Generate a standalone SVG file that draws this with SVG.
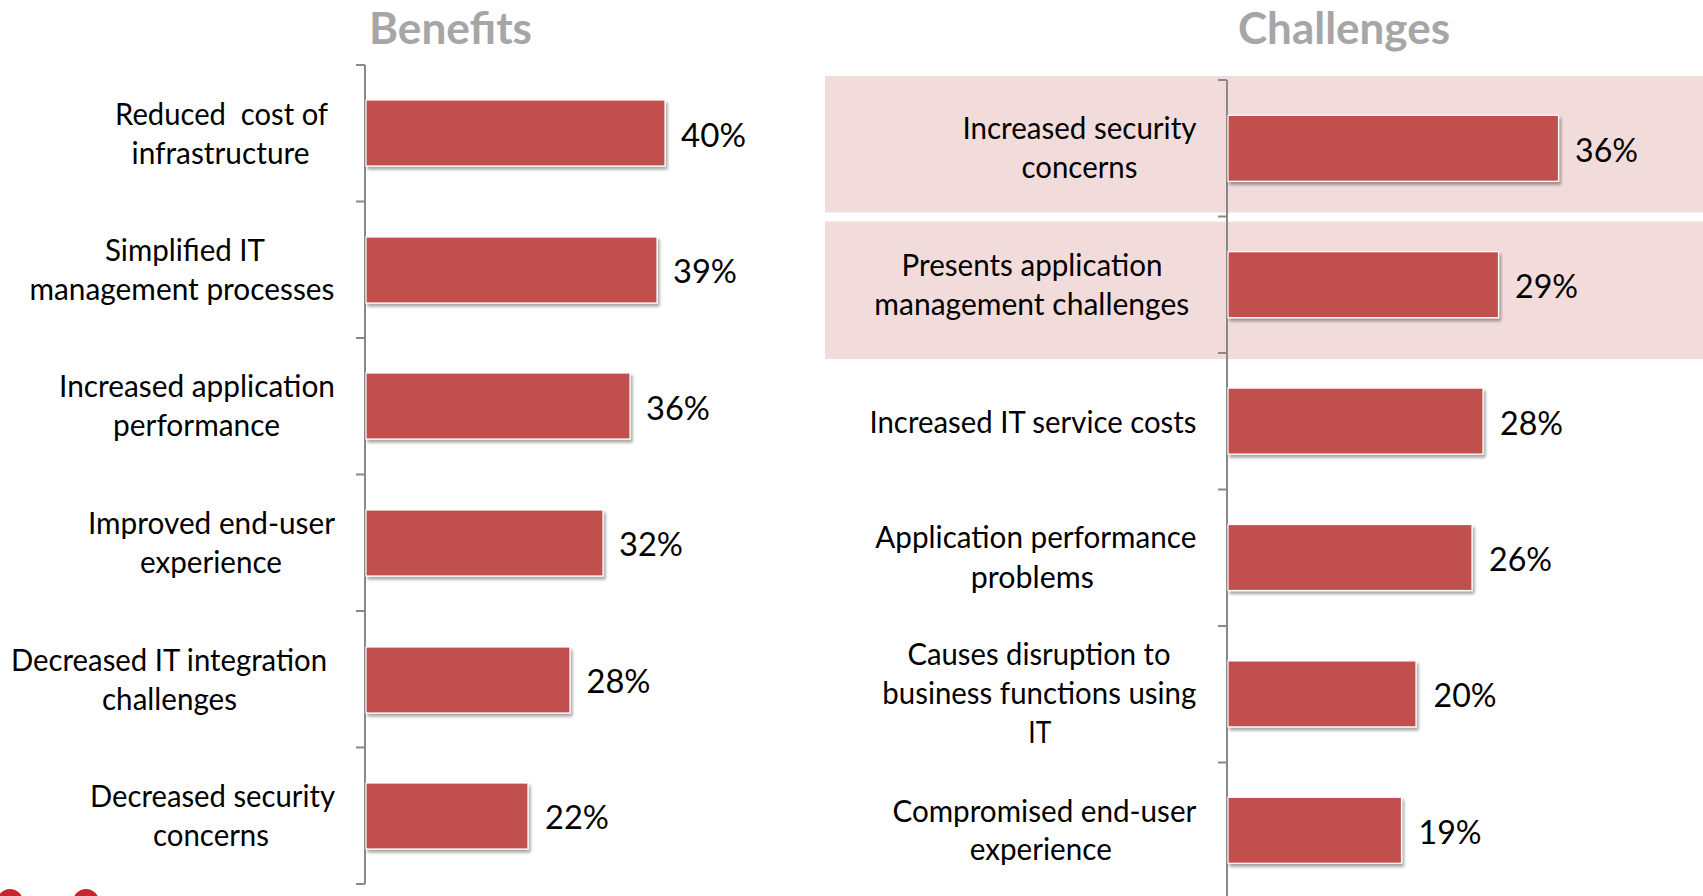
<svg xmlns="http://www.w3.org/2000/svg" width="1703" height="896" viewBox="0 0 1703 896">
<style>
.lbl{font-family:Lato,"Open Sans","Liberation Sans",sans-serif;font-size:31px;fill:#000;text-anchor:middle;white-space:pre}
.pct{font-family:Lato,"Open Sans","Liberation Sans",sans-serif;font-size:33px;fill:#000}
.ttl{font-family:Lato,"Open Sans","Liberation Sans",sans-serif;font-size:43px;font-weight:bold;fill:#A6A6A6;text-anchor:middle}
.bar{fill:#C0504D;stroke:#fff;stroke-width:1.2;filter:url(#sh)}
.axis{stroke:#898989;stroke-width:2;fill:none}
.band{fill:#F2DCDB}
</style>
<defs>
<filter id="sh" x="-5%" y="-20%" width="115%" height="150%">
<feDropShadow dx="2" dy="3" stdDeviation="1.5" flood-color="#000" flood-opacity="0.35"/>
</filter>
</defs>
<rect width="1703" height="896" fill="#fff"/>
<circle cx="10" cy="902" r="13" fill="#C8262E"/>
<circle cx="86" cy="902" r="13" fill="#C8262E"/>
<text class="ttl" x="450.5" y="44" textLength="163" lengthAdjust="spacingAndGlyphs">Benefits</text>
<text class="ttl" x="1344" y="44" textLength="212" lengthAdjust="spacingAndGlyphs">Challenges</text>
<g id="highlights">
<rect class="band" x="825" y="76" width="878" height="136.5"/>
<rect class="band" x="825" y="221.5" width="878" height="137.5"/>
</g>
<g id="connectors">
<path class="axis" d="M365 65V884M356 65H365M356 201.5H365M356 338H365M356 474.5H365M356 611H365M356 747.5H365M356 884H365"/>
<path class="axis" d="M1227 80V896M1218 80H1227M1218 216.5H1227M1218 353H1227M1218 489.5H1227M1218 626H1227M1218 762.5H1227"/>
</g>
<g id="b1">
<rect class="bar" x="366" y="100" width="299" height="66"/>
<text class="lbl" x="221.6" y="124.5" textLength="213" lengthAdjust="spacingAndGlyphs">Reduced  cost of</text>
<text class="lbl" x="220.5" y="163.5" textLength="178" lengthAdjust="spacingAndGlyphs">infrastructure</text>
<text class="pct" x="681" y="147" textLength="65" lengthAdjust="spacingAndGlyphs">40%</text>
</g>
<g id="b2">
<rect class="bar" x="366" y="237" width="291" height="66"/>
<text class="lbl" x="185" y="260.5" textLength="160" lengthAdjust="spacingAndGlyphs">Simplified IT</text>
<text class="lbl" x="182" y="299.5" textLength="305" lengthAdjust="spacingAndGlyphs">management processes</text>
<text class="pct" x="673" y="283" textLength="64" lengthAdjust="spacingAndGlyphs">39%</text>
</g>
<g id="b3">
<rect class="bar" x="366" y="373" width="264" height="66"/>
<text class="lbl" x="197" y="397" textLength="276" lengthAdjust="spacingAndGlyphs">Increased application</text>
<text class="lbl" x="196.5" y="436" textLength="167" lengthAdjust="spacingAndGlyphs">performance</text>
<text class="pct" x="646" y="419.5" textLength="64" lengthAdjust="spacingAndGlyphs">36%</text>
</g>
<g id="b4">
<rect class="bar" x="366" y="510" width="237" height="66"/>
<text class="lbl" x="211.5" y="533.5" textLength="247" lengthAdjust="spacingAndGlyphs">Improved end-user</text>
<text class="lbl" x="211" y="572.5" textLength="142" lengthAdjust="spacingAndGlyphs">experience</text>
<text class="pct" x="619" y="556" textLength="64" lengthAdjust="spacingAndGlyphs">32%</text>
</g>
<g id="b5">
<rect class="bar" x="366" y="647" width="204" height="66"/>
<text class="lbl" x="169" y="670.5" textLength="316" lengthAdjust="spacingAndGlyphs">Decreased IT integration</text>
<text class="lbl" x="169.5" y="709.5" textLength="135" lengthAdjust="spacingAndGlyphs">challenges</text>
<text class="pct" x="586.5" y="693" textLength="64" lengthAdjust="spacingAndGlyphs">28%</text>
</g>
<g id="b6">
<rect class="bar" x="366" y="783" width="162" height="66"/>
<text class="lbl" x="212.5" y="806.5" textLength="245" lengthAdjust="spacingAndGlyphs">Decreased security</text>
<text class="lbl" x="211" y="845.5" textLength="116" lengthAdjust="spacingAndGlyphs">concerns</text>
<text class="pct" x="545" y="829" textLength="64" lengthAdjust="spacingAndGlyphs">22%</text>
</g>
<g id="c1">
<rect class="bar" x="1228" y="115.3" width="330.5" height="66"/>
<text class="lbl" x="1079.5" y="139" textLength="234" lengthAdjust="spacingAndGlyphs">Increased security</text>
<text class="lbl" x="1079.5" y="177.8" textLength="116" lengthAdjust="spacingAndGlyphs">concerns</text>
<text class="pct" x="1575" y="161.8" textLength="63" lengthAdjust="spacingAndGlyphs">36%</text>
</g>
<g id="c2">
<rect class="bar" x="1228" y="251.7" width="270.5" height="66"/>
<text class="lbl" x="1032" y="275.5" textLength="261" lengthAdjust="spacingAndGlyphs">Presents application</text>
<text class="lbl" x="1031.8" y="314.5" textLength="315" lengthAdjust="spacingAndGlyphs">management challenges</text>
<text class="pct" x="1515" y="298.2" textLength="63" lengthAdjust="spacingAndGlyphs">29%</text>
</g>
<g id="c3">
<rect class="bar" x="1228" y="388.1" width="255" height="66"/>
<text class="lbl" x="1033" y="432.5" textLength="327" lengthAdjust="spacingAndGlyphs">Increased IT service costs</text>
<text class="pct" x="1500" y="434.6" textLength="63" lengthAdjust="spacingAndGlyphs">28%</text>
</g>
<g id="c4">
<rect class="bar" x="1228" y="524.5" width="244" height="66"/>
<text class="lbl" x="1035.8" y="548.3" textLength="321" lengthAdjust="spacingAndGlyphs">Application performance</text>
<text class="lbl" x="1032.3" y="587.5" textLength="123" lengthAdjust="spacingAndGlyphs">problems</text>
<text class="pct" x="1489" y="571" textLength="63" lengthAdjust="spacingAndGlyphs">26%</text>
</g>
<g id="c5">
<rect class="bar" x="1228" y="660.9" width="188" height="66"/>
<text class="lbl" x="1039" y="664.8" textLength="263" lengthAdjust="spacingAndGlyphs">Causes disruption to</text>
<text class="lbl" x="1039.3" y="703.8" textLength="314" lengthAdjust="spacingAndGlyphs">business functions using</text>
<text class="lbl" x="1039.8" y="743.2" textLength="23" lengthAdjust="spacingAndGlyphs">IT</text>
<text class="pct" x="1433.6" y="707.4" textLength="63" lengthAdjust="spacingAndGlyphs">20%</text>
</g>
<g id="c6">
<rect class="bar" x="1228" y="797.3" width="173.5" height="66"/>
<text class="lbl" x="1044.4" y="821.5" textLength="304" lengthAdjust="spacingAndGlyphs">Compromised end-user</text>
<text class="lbl" x="1040.8" y="859.8" textLength="142" lengthAdjust="spacingAndGlyphs">experience</text>
<text class="pct" x="1418.5" y="843.8" textLength="63" lengthAdjust="spacingAndGlyphs">19%</text>
</g>
</svg>
